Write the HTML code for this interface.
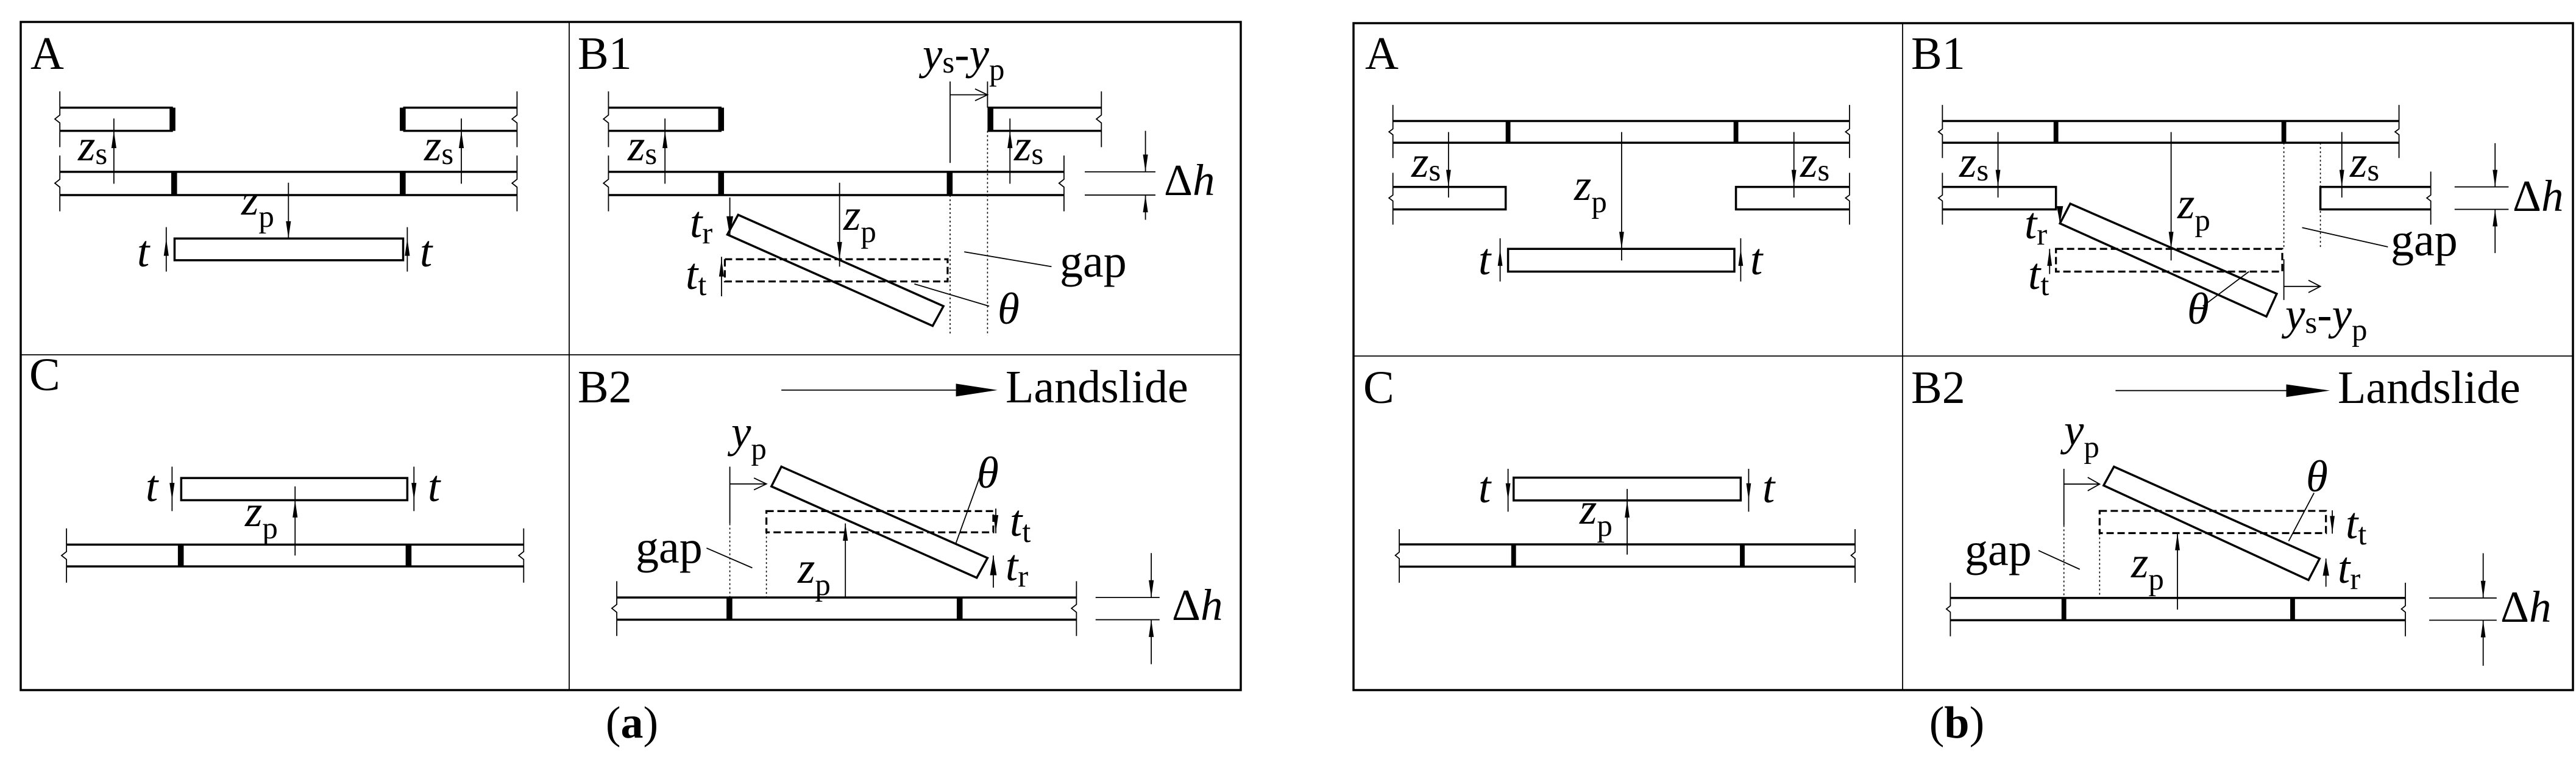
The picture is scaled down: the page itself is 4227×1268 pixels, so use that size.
<!DOCTYPE html>
<html><head><meta charset="utf-8"><style>
html,body{margin:0;padding:0;background:#fff;}
svg{display:block}
.k{stroke:#000;fill:none;stroke-width:3.5;vector-effect:non-scaling-stroke}
.t{stroke:#000;fill:none;stroke-width:1.8;vector-effect:non-scaling-stroke}
.d{stroke:#000;fill:none;stroke-width:1.6;stroke-dasharray:3 4;vector-effect:non-scaling-stroke}
.ds{stroke:#000;fill:none;stroke-width:3.2;stroke-dasharray:12 6;vector-effect:non-scaling-stroke}
.f{fill:#000;stroke:none}
text{font-family:"Liberation Serif",serif;font-size:76px;fill:#000}
.i{font-style:italic;font-size:73px}
.s{font-style:normal;font-size:51px}
</style></head><body>
<svg width="4227" height="1268" viewBox="0 0 4227 1268" xmlns="http://www.w3.org/2000/svg">
<rect x="0" y="0" width="4227" height="1268" fill="#fff"/>
<rect class="k" x="34" y="36" width="2002" height="1096"/>
<path class="t" d="M934,36V1132M34,582H2036"/>
<rect class="k" x="2221" y="38" width="2001" height="1094"/>
<path class="t" d="M3122,38V1132M2221,584H4222"/>

<g transform="scale(1.364,0.81)">
<path class="k" d="M72,218H208M72,265H208M485,218H622M485,265H622M72,348H622M72,395H622"/>
<rect class="f" x="204" y="218" width="7" height="47"/><rect class="f" x="481" y="218" width="7" height="47"/>
<rect class="f" x="206" y="348" width="7" height="47"/><rect class="f" x="481" y="348" width="7" height="47"/>
<path class="t" d="M72,185V233l-6,8l6,8V298M72,315V363l-6,8l6,8V428M622,185V233l-6,8l6,8V298M622,315V363l-6,8l6,8V428"/>
<path class="t" d="M137,240V372M555,240V372M347,370V483M200,460V550M490,460V550"/>
<path class="f" d="M137,265l-3,35h6zM555,265l-3,35h6zM347,483l-3,-35h6zM200,483l-3,35h6zM490,483l-3,35h6z"/>
<rect class="k" x="210" y="483" width="275" height="44"/>
<path class="k" d="M732,218H868M732,265H868M1188,218H1325M1188,265H1325M732,348H1280M732,395H1280"/>
<rect class="f" x="864" y="218" width="7" height="47"/><rect class="f" x="1188" y="218" width="7" height="47"/>
<rect class="f" x="864" y="348" width="7" height="47"/><rect class="f" x="1139" y="348" width="7" height="47"/>
<path class="t" d="M732,185V233l-6,8l6,8V298M732,315V363l-6,8l6,8V428M1325,185V233l-6,8l6,8V298M1280,315V363l-6,8l6,8V428"/>
<path class="t" d="M1143,165V330M1188,165V218M1143,192H1188M1173,180L1188,192L1173,204"/>
<path class="d" d="M1143,395V680M1188,265V680"/>
<path class="t" d="M800,240V372M1215,240V372M1305,348H1390M1305,395H1390M1378,265V348M1378,395V445M1010,370V540M878,400V478M868,520V600M1160,510L1265,540M1100,575L1190,620"/>
<path class="f" d="M800,265l-3,35h6zM1215,265l-3,35h6zM1378,348l-3,-35h6zM1378,395l-3,35h6zM1010,525l-3,-35h6zM878,478l-4,-40h8zM868,525l-3,35h6z"/>
<polygon class="k" points="888,435 1135,620 1122,660 875,475"/>
<rect class="ds" x="872" y="525" width="268" height="45"/>
<rect class="k" x="218" y="968" width="272" height="45"/>
<path class="t" d="M207,945V1035M498,945V1035M355,985V1125"/>
<path class="f" d="M207,1013l-3,-35h6zM498,1013l-3,-35h6zM355,1013l-3,35h6z"/>
<path class="k" d="M80,1103H630M80,1147H630"/>
<rect class="f" x="214" y="1103" width="7" height="44"/><rect class="f" x="488" y="1103" width="7" height="44"/>
<path class="t" d="M80,1070V1117l-6,8l6,8V1180M630,1070V1117l-6,8l6,8V1180"/>
<path class="t" d="M940,790H1150"/><path class="f" d="M1150,777L1200,790L1150,803z"/>
<path class="k" d="M742,1210H1295M742,1255H1295"/>
<rect class="f" x="874" y="1210" width="7" height="45"/><rect class="f" x="1151" y="1210" width="7" height="45"/>
<path class="t" d="M742,1177V1224l-6,8l6,8V1288M1295,1177V1224l-6,8l6,8V1288"/>
<path class="t" d="M1318,1210H1395M1318,1255H1395M1385,1120V1210M1385,1255V1345M878,945V1060M878,980H922M907,968L922,980L907,992M1150,1100L1180,960M1198,1030V1080M1195,1125V1190M1017,1060V1210M850,1110L905,1150"/>
<path class="d" d="M878,1060V1210M922,1078V1210"/>
<path class="f" d="M1385,1210l-3,-35h6zM1385,1255l-3,35h6zM1198,1078l-3,-35h6zM1195,1125l-4,40h8zM1017,1060l-3,35h6z"/>
<polygon class="k" points="940,945 1188,1130 1175,1170 928,985"/>
<rect class="ds" x="922" y="1035" width="273" height="43"/>
</g>

<g transform="translate(2214,0) scale(1.303,0.405)">
<path class="k" d="M55,490H630M55,578H630M55,757H197V848H55M630,757H487V848H630"/>
<rect class="f" x="197" y="490" width="6" height="88"/><rect class="f" x="484" y="490" width="6" height="88"/>
<path class="t" d="M55,425V522l-5,12l5,12V640M55,700V790l-5,12l5,12V910M630,425V522l-5,12l5,12V640M630,700V790l-5,12l5,12V910"/>
<path class="t" d="M125,535V800M560,535V800M343,535V1055M190,965V1140M493,965V1140"/>
<path class="f" d="M125,757l-3,-69h6zM560,757l-3,-69h6zM343,1008l-3,-69h6zM190,1008l-3,69h6zM493,1008l-3,69h6z"/>
<rect class="k" x="200" y="1008" width="285" height="92"/>
<path class="k" d="M747,490H1322M747,578H1322M747,757H890V848H747M1362,757H1223V848H1362"/>
<rect class="f" x="887" y="490" width="6" height="88"/><rect class="f" x="1174" y="490" width="6" height="88"/>
<path class="t" d="M747,425V522l-5,12l5,12V640M747,700V790l-5,12l5,12V910M1322,425V522l-5,12l5,12V640M1362,695V790l-5,12l5,12V910"/>
<path class="d" d="M1177,578V1010M1223,578V1010"/>
<path class="t" d="M817,535V800M1250,535V800M1035,535V1055M895,840V905M882,1008V1110M1392,757H1460M1392,848H1460M1443,580V757M1443,848V1025M1200,922L1308,1000M1133,1100L1075,1240M1177,1050V1215M1177,1160H1223M1208,1135L1223,1160L1208,1185"/>
<path class="f" d="M817,757l-3,-69h6zM1250,757l-3,-69h6zM1035,1008l-3,-69h6zM895,905l-4,-70h8zM882,1008l-3,69h6zM1443,757l-3,-69h6zM1443,848l-3,69h6z"/>
<polygon class="k" points="908,825 1168,1190 1155,1282 895,905"/>
<rect class="ds" x="890" y="1008" width="285" height="92"/>
</g>

<g transform="translate(2214,580) scale(1.303,0.4396)">
<rect class="k" x="207" y="463" width="286" height="85"/>
<path class="t" d="M200,430V590M503,430V590M350,505V750"/>
<path class="f" d="M200,548l-3,-64h6zM503,548l-3,-64h6zM350,548l-3,64h6z"/>
<path class="k" d="M63,712H637M63,795H637"/>
<rect class="f" x="204" y="712" width="6" height="83"/><rect class="f" x="492" y="712" width="6" height="83"/>
<path class="t" d="M63,655V741l-5,12l5,12V855M637,655V741l-5,12l5,12V855"/>
<path class="t" d="M965,138H1180"/><path class="f" d="M1180,115L1235,138L1180,162z"/>
<path class="k" d="M757,912H1330M757,995H1330"/>
<rect class="f" x="897" y="912" width="6" height="83"/><rect class="f" x="1185" y="912" width="6" height="83"/>
<path class="t" d="M757,855V941l-5,12l5,12V1055M1330,855V941l-5,12l5,12V1055"/>
<path class="t" d="M1360,912H1445M1360,995H1445M1428,745V912M1428,995V1165M900,430V640M900,487H945M930,462L945,487L930,512M1183,700L1215,520M1238,585V672M1230,765V870M1043,670V955M868,735L920,805"/>
<path class="d" d="M900,640V912M945,670V912"/>
<path class="f" d="M1428,912l-3,-64h6zM1428,995l-3,64h6zM1238,670l-3,-64h6zM1230,765l-4,64h8zM1043,670l-3,64h6z"/>
<polygon class="k" points="963,422 1222,765 1208,845 950,492"/>
<rect class="ds" x="945" y="587" width="285" height="83"/>
</g>

<text x="50" y="113">A</text>
<text x="948" y="113">B1</text>
<text x="48" y="640">C</text>
<text x="948" y="660">B2</text>
<text x="1650" y="660">Landslide</text>
<text class="i" x="128" y="263">z<tspan class="s" dy="6">s</tspan></text>
<text class="i" x="696" y="263">z<tspan class="s" dy="6">s</tspan></text>
<text class="i" x="396" y="352">z<tspan class="s" dy="20">p</tspan></text>
<text class="i" x="225" y="437">t</text>
<text class="i" x="689" y="437">t</text>
<text class="i" x="1514" y="113">y<tspan class="s" dy="6">s</tspan><tspan font-style="normal" dy="-6">-</tspan>y<tspan class="s" dy="18">p</tspan></text>
<text class="i" x="1030" y="263">z<tspan class="s" dy="6">s</tspan></text>
<text class="i" x="1664" y="263">z<tspan class="s" dy="6">s</tspan></text>
<text class="i" x="1910" y="320"><tspan font-style="normal">Δ</tspan>h</text>
<text class="i" x="1384" y="377">z<tspan class="s" dy="20">p</tspan></text>
<text class="i" x="1132" y="389">t<tspan class="s" dy="10">r</tspan></text>
<text class="i" x="1125" y="474">t<tspan class="s" dy="10">t</tspan></text>
<text x="1739" y="454">gap</text>
<text class="i" x="1637" y="531">θ</text>
<text class="i" x="239" y="822">t</text>
<text class="i" x="702" y="822">t</text>
<text class="i" x="402" y="863">z<tspan class="s" dy="20">p</tspan></text>
<text class="i" x="1923" y="1017"><tspan font-style="normal">Δ</tspan>h</text>
<text class="i" x="1200" y="733">y<tspan class="s" dy="20">p</tspan></text>
<text class="i" x="1603" y="800">θ</text>
<text class="i" x="1657" y="879">t<tspan class="s" dy="10">t</tspan></text>
<text class="i" x="1650" y="952">t<tspan class="s" dy="10">r</tspan></text>
<text class="i" x="1309" y="956">z<tspan class="s" dy="20">p</tspan></text>
<text x="1043" y="923">gap</text>
<text x="1037" y="1210" text-anchor="middle" style="font-size:74px">(<tspan font-weight="bold">a</tspan>)</text>

<text x="2240" y="113">A</text>
<text x="3136" y="113">B1</text>
<text x="2237" y="661">C</text>
<text x="3136" y="661">B2</text>
<text x="3836" y="661">Landslide</text>
<text class="i" x="2316" y="290">z<tspan class="s" dy="6">s</tspan></text>
<text class="i" x="2954" y="290">z<tspan class="s" dy="6">s</tspan></text>
<text class="i" x="2583" y="328">z<tspan class="s" dy="20">p</tspan></text>
<text class="i" x="2426" y="450">t</text>
<text class="i" x="2872" y="450">t</text>
<text class="i" x="3215" y="290">z<tspan class="s" dy="6">s</tspan></text>
<text class="i" x="3856" y="290">z<tspan class="s" dy="6">s</tspan></text>
<text class="i" x="3573" y="358">z<tspan class="s" dy="20">p</tspan></text>
<text class="i" x="3322" y="391">t<tspan class="s" dy="10">r</tspan></text>
<text class="i" x="3328" y="474">t<tspan class="s" dy="10">t</tspan></text>
<text class="i" x="4123" y="346"><tspan font-style="normal">Δ</tspan>h</text>
<text x="3923" y="419">gap</text>
<text class="i" x="3589" y="531">θ</text>
<text class="i" x="3750" y="540">y<tspan class="s" dy="6">s</tspan><tspan font-style="normal" dy="-6">-</tspan>y<tspan class="s" dy="18">p</tspan></text>
<text class="i" x="2426" y="824">t</text>
<text class="i" x="2892" y="824">t</text>
<text class="i" x="2592" y="859">z<tspan class="s" dy="20">p</tspan></text>
<text class="i" x="4103" y="1020"><tspan font-style="normal">Δ</tspan>h</text>
<text class="i" x="3387" y="730">y<tspan class="s" dy="20">p</tspan></text>
<text class="i" x="3784" y="806">θ</text>
<text class="i" x="3849" y="883">t<tspan class="s" dy="10">t</tspan></text>
<text class="i" x="3836" y="956">t<tspan class="s" dy="10">r</tspan></text>
<text class="i" x="3497" y="947">z<tspan class="s" dy="20">p</tspan></text>
<text x="3224" y="927">gap</text>
<text x="3211" y="1210" text-anchor="middle" style="font-size:74px">(<tspan font-weight="bold">b</tspan>)</text>
</svg>
</body></html>
